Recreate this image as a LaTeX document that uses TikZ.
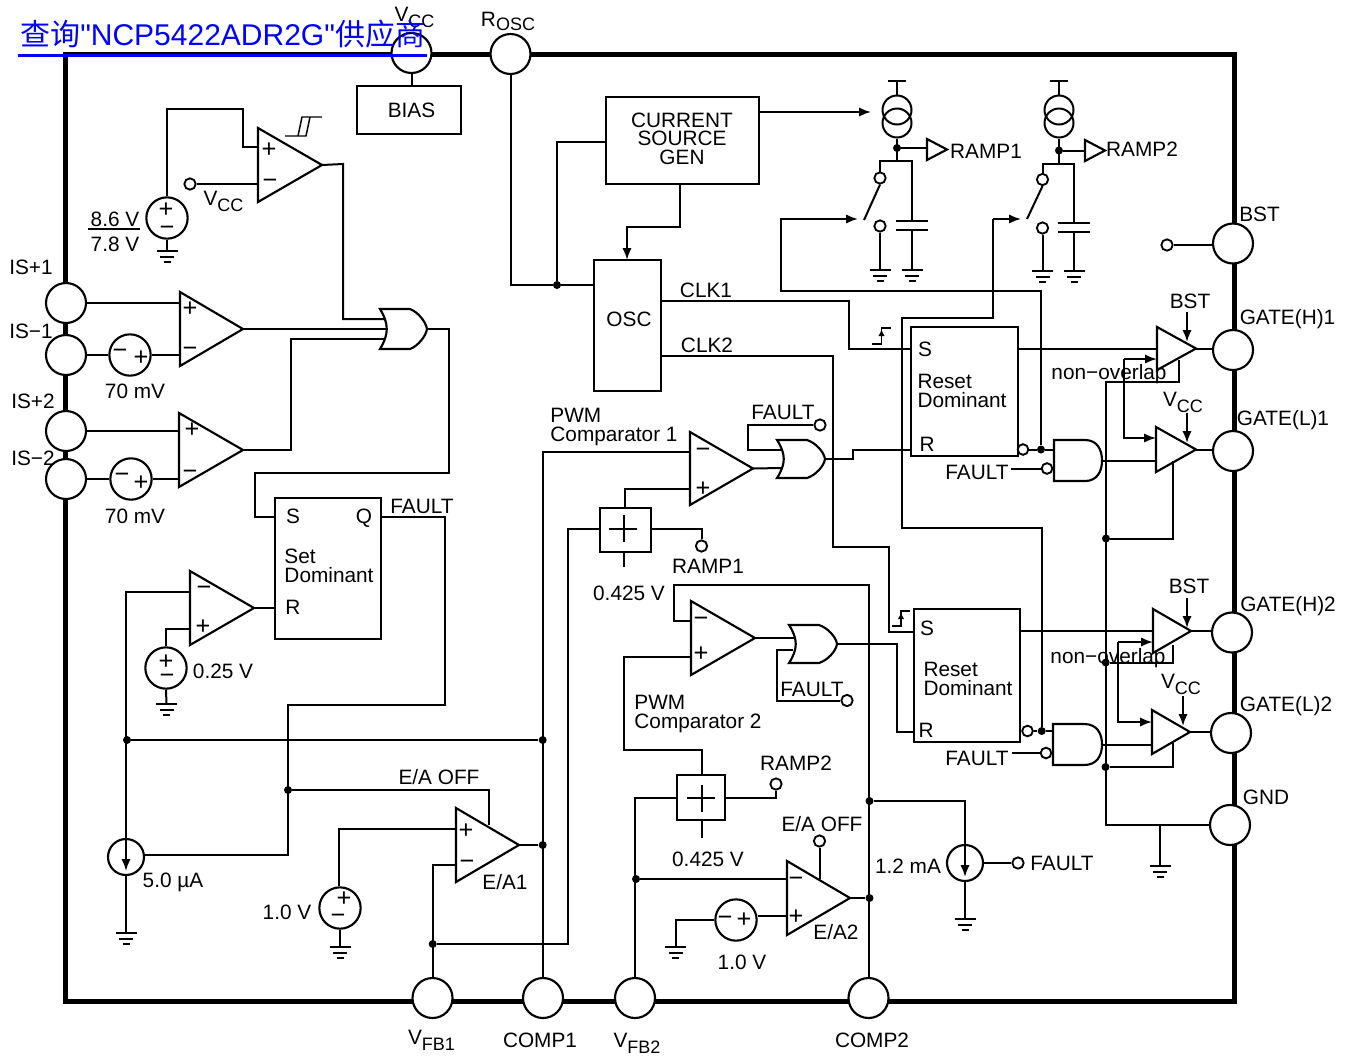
\documentclass[tikz,border=0pt]{standalone}
\usepackage{fontspec}
\setmainfont{Liberation Sans}
\newfontfamily\linkfont{Liberation Sans}
\newfontfamily\cjk{Noto Sans CJK SC}
\usetikzlibrary{arrows.meta}
\newcommand\sbs[1]{\raisebox{-4.5pt}{\fontsize{13.5}{13.5}\selectfont #1}}
\tikzset{
  wire/.style={line width=1.5pt},
  thinw/.style={line width=1.1pt},
  part/.style={line width=1.6pt,line join=miter},
  arr/.style={-{Latex[length=9pt,width=7pt]}},
  smallarr/.style={-{Latex[length=5pt,width=5pt]}},
  frame/.style={line width=3.75pt},
  pinn/.style={circle,draw,fill=white,line width=1.6pt,minimum size=30pt,inner sep=0pt},
  src/.style={circle,draw,line width=1.6pt,minimum size=31pt,inner sep=0pt},
  isrc/.style={circle,draw,line width=1.6pt,minimum size=27pt,inner sep=0pt},
  ics/.style={circle,draw,line width=1.5pt,minimum size=21.75pt,inner sep=0pt},
  oc/.style={circle,draw,fill=white,line width=1.4pt,minimum size=8.5pt,inner sep=0pt},
  bub/.style={circle,draw,fill=white,line width=1.4pt,minimum size=8pt,inner sep=0pt},
  dot/.style={circle,fill=black,minimum size=6pt,inner sep=0pt},
  box/.style={draw,line width=1.6pt,inner sep=0pt},
  lbl/.style={inner sep=0pt,font=\fontsize{15.6}{14.2}\selectfont,text height=11.2pt,text depth=0pt},
  multi/.style={inner sep=0pt,font=\fontsize{15.6}{14.2}\selectfont,align=left},
  sign/.style={inner sep=0pt,font=\fontsize{19}{19}\selectfont},
}
\newcommand\boxn[5]{\node[box,minimum width={(#4-#2)*0.75pt},minimum height={(#5-#3)*0.75pt}] (#1) at ({(#2+#4)/2},{(#3+#5)/2}) {};}
\newcommand\driver[5]{\coordinate (#1a) at (#2,#3); \coordinate (#1b) at (#2,#4); \coordinate (#1o) at (#5,{(#3+#4)/2}); \draw[part] (#1a) -- (#1o) -- (#1b) -- cycle;}
\newcommand\opamp[7]{\driver{#1}{#2}{#3}{#4}{#5}\coordinate (#1p) at (#2,#6); \coordinate (#1m) at (#2,#7);}
\newcommand\orgate[5]{\draw[part] (#2,#3) -- (#2+30,#3) .. controls (#5-9,#3+3) and (#5-1,{(#3+#4)/2-7}) .. (#5,{(#3+#4)/2}) .. controls (#5-1,{(#3+#4)/2+7}) and (#5-9,#4-3) .. (#2+30,#4) -- (#2,#4) .. controls (#2+9,{(#3+#4)/2+5}) and (#2+9,{(#3+#4)/2-5}) .. cycle; \coordinate (#1o) at (#5,{(#3+#4)/2});}
\newcommand\andgate[5]{\draw[part] (#2,#3) -- (#2+31,#3) .. controls (#5-5,#3) and (#5,{(#3+#4)/2-11}) .. (#5,{(#3+#4)/2}) .. controls (#5,{(#3+#4)/2+11}) and (#5-5,#4) .. (#2+31,#4) -- (#2,#4) -- cycle; \coordinate (#1o) at (#5,{(#3+#4)/2});}
\newcommand\gnd[3]{\coordinate (#1) at (#2,#3); \draw[wire] (#2-10.5,#3) -- (#2+10.5,#3) (#2-7,#3+5.5) -- (#2+7,#3+5.5) (#2-3.5,#3+11) -- (#2+3.5,#3+11);}
\newcommand\capac[4]{\draw[wire] (#2-16,#3) -- (#2+16,#3) (#2-16,#4) -- (#2+16,#4); \coordinate (#1t) at (#2,#3); \coordinate (#1b) at (#2,#4);}
\begin{document}
\begin{tikzpicture}[x=0.75pt,y=-0.75pt]
\useasboundingbox (0,0) rectangle (1351,1057);
\fill[white] (0,0) rectangle (1351,1057);
\draw[frame] (65,54) rectangle (1234,1001);

% pins
\node[pinn] (pvcc) at (411.5,53) {};
\node[pinn] (prosc) at (510.5,54) {};
\node[pinn] (pisp1) at (66,303) {};
\node[pinn] (pism1) at (66,355) {};
\node[pinn] (pisp2) at (66,431) {};
\node[pinn] (pism2) at (66,479) {};
\node[pinn] (pbst) at (1233,243.5) {};
\node[pinn] (pgh1) at (1233,350) {};
\node[pinn] (pgl1) at (1233,451) {};
\node[pinn] (pgh2) at (1232,632.5) {};
\node[pinn] (pgl2) at (1231,733) {};
\node[pinn] (pgnd) at (1230,825) {};
\node[pinn] (pfb1) at (432.5,998) {};
\node[pinn] (pc1) at (543,998) {};
\node[pinn] (pfb2) at (635,998) {};
\node[pinn] (pc2) at (868.5,998) {};

% boxes
\boxn{bias}{357}{86}{461}{134}
\boxn{csg}{606}{97}{759}{184}
\boxn{osc}{594}{260}{661}{391}
\boxn{rd1}{911}{327}{1018}{456}
\boxn{rd2}{914}{609}{1020}{742}
\boxn{sd}{275}{498}{381}{639}
\boxn{sum1}{600}{508}{651}{552}
\boxn{sum2}{677}{775}{725}{820}
\draw[wire] (624,515) -- (624,542) (609,528.5) -- (637,528.5) (624,552) -- (624,567);
\draw[wire] (701.5,785) -- (701.5,812) (687,798) -- (715,798) (701.5,820) -- (701.5,838);

% amplifiers
\opamp{u1}{258}{128}{202}{322}{147}{184}
\opamp{is1}{180}{292}{366}{243}{303}{355}
\opamp{is2}{179}{413}{487}{243}{431}{479}
\opamp{rc}{190}{571}{645}{254}{629}{592}
\opamp{pw1}{690}{432}{505}{753}{489}{452}
\opamp{pw2}{691}{601}{675}{755}{657}{621}
\opamp{ea1}{456}{808}{882}{519}{829}{865}
\opamp{ea2}{787}{861}{935}{850}{916}{879}
\driver{hs1}{1157}{327}{370}{1196}
\driver{ls1}{1156}{427}{472}{1196}
\driver{hs2}{1153}{609}{653}{1191}
\driver{ls2}{1152}{710}{754}{1190}

% gates
\orgate{orf}{380}{309}{349}{427}
\orgate{orp1}{777}{440}{478}{825}
\orgate{orp2}{789}{625}{663}{837}
\andgate{and1}{1054}{440}{481}{1102}
\andgate{and2}{1053}{724}{765}{1102}

% signs
\node[sign] (s1) at (269,150) {+};
\node[sign] (s2) at (270,184) {−};
\node[sign] (s3) at (190,309) {+};
\node[sign] (s4) at (190,352) {−};
\node[sign] (s5) at (192,430) {+};
\node[sign] (s6) at (190,475) {−};
\node[sign] (s7) at (204,591) {−};
\node[sign] (s8) at (203,627) {+};
\node[sign] (s9) at (703,453) {−};
\node[sign] (s10) at (703,489) {+};
\node[sign] (s11) at (701,622) {−};
\node[sign] (s12) at (701,654) {+};
\node[sign] (s13) at (466,831) {+};
\node[sign] (s14) at (467,865) {−};
\node[sign] (s15) at (796,882) {−};
\node[sign] (s16) at (796,917) {+};

% voltage sources
\node[src] (vs86) at (167,218) {};
\node[sign] (s17) at (166,210) {+};
\node[sign] (s18) at (167,231) {−};
\node[src] (vs70a) at (130,355) {};
\node[sign] (s19) at (120,354) {−};
\node[sign] (s20) at (141,358) {+};
\node[src] (vs70b) at (131,479) {};
\node[sign] (s21) at (122,478) {−};
\node[sign] (s22) at (141,483) {+};
\node[src] (vs25) at (166,668) {};
\node[sign] (s23) at (166,662) {+};
\node[sign] (s24) at (167,679) {−};
\node[src] (vs10a) at (340,908) {};
\node[sign] (s25) at (344,899) {+};
\node[sign] (s26) at (338,919) {−};
\node[src] (vs10b) at (736,920) {};
\node[sign] (s27) at (725,921) {−};
\node[sign] (s28) at (744,920) {+};
\node[isrc] (is5) at (126,857) {};
\node[isrc] (is12) at (965,863) {};

% grounds
\gnd{g1}{167}{251}
\gnd{g2}{166.5}{704}
\gnd{g3}{126}{933}
\gnd{g4}{340}{947}
\gnd{g5}{675.5}{947}
\gnd{g6}{965}{919}
\gnd{g7}{1160}{866}
\gnd{g8}{880}{270}
\gnd{g9}{912}{270}
\gnd{g10}{1042.5}{271}
\gnd{g11}{1074}{271}

% small terminals
\node[oc] (tvcc) at (190,184) {};
\node[oc] (tbst) at (1167,245) {};
\node[oc] (tf1) at (820,425) {};
\node[oc] (tf2) at (847,700.5) {};
\node[oc] (tr1) at (701.5,546) {};
\node[oc] (tr2) at (776,784) {};
\node[oc] (tea2) at (819.5,841) {};
\node[oc] (tf3) at (1018,863) {};
\node[oc] (sw1a) at (880,178) {};
\node[oc] (sw1b) at (880,226) {};
\node[oc] (sw2a) at (1042.5,179.5) {};
\node[oc] (sw2b) at (1042.5,228) {};
\node[bub] (bq1) at (1023,449.5) {};
\node[bub] (bq2) at (1027.5,731) {};
\node[bub] (bf1) at (1047,468.5) {};
\node[bub] (bf2) at (1046,753) {};

% dots
\node[dot] (dosc) at (557,285) {};
\node[dot] (d1q) at (1041,449.5) {};
\node[dot] (d2q) at (1041.7,731) {};
\node[dot] (dq) at (288,790) {};
\node[dot] (dfa) at (127,740) {};
\node[dot] (dfb) at (542.7,740) {};
\node[dot] (dc1) at (542.7,845) {};
\node[dot] (dfb1) at (432.7,944) {};
\node[dot] (dfb2) at (636,879) {};
\node[dot] (dc2a) at (869.5,801) {};
\node[dot] (dc2b) at (869.5,898) {};
\node[dot] (dg1) at (1106,538.5) {};
\node[dot] (dg2) at (1105.7,662.5) {};
\node[dot] (dg3) at (1105.5,767) {};
\node[dot] (dr1) at (897,148) {};
\node[dot] (dr2) at (1059,150.5) {};

% supply, bias and oscillator connections
\draw[wire] (pvcc.south) -- (pvcc.south |- bias.north);
\draw[wire] (prosc.south) |- (dosc) -- (osc.west |- dosc);
\draw[wire] (dosc) |- (csg.west |- 0,142);
\draw[wire,arr] (csg.east |- 0,112) -- (871,112);
\draw[wire,arr] (680,184) |- (627,227) -- (627,260);
\draw[wire] (pbst.west |- tbst) -- (tbst);

% UVLO
\draw[wire] (vs86.north) -- (167,108.5) -| (243,147) -- (u1p);
\draw[wire] (tvcc) -- (u1m);
\draw[wire] (vs86.south) -- (g1);
\draw[wire] (u1o) -- (343,164) |- (385,319);
\draw[thinw] (285,136) -- (306,136) -- (310,117) -- (322,117) (298,136) -- (302,117) -- (310,117);
\draw[wire] (88,229) -- (140,229);

% current sense
\draw[wire] (pisp1.east |- is1p) -- (is1p);
\draw[wire] (pism1.east) -- (vs70a.west);
\draw[wire] (vs70a.east) -- (is1m);
\draw[wire] (pisp2.east) -- (is2p);
\draw[wire] (pism2.east) -- (vs70b.west);
\draw[wire] (vs70b.east) -- (is2m);
\draw[wire] (is1o) -- (388,329);
\draw[wire] (is2o) -- (291,450) |- (385,339);
\draw[wire] (orfo) -- (449,329) |- (255,472.5) |- (sd.west |- 0,516.5);

% fault latch
\draw[wire] (rco) -- (sd.west |- rco);
\draw[wire] (rcp) -| (vs25.north);
\draw[wire] (vs25.south) -- (g2);
\draw[wire] (sd.east |- 0,516.5) -- (445,516.5) |- (288,705) -- (288,855) -- (is5.east |- 0,855);
\draw[wire] (dq) -| (488.5,825);
\draw[wire] (rcm) -| (126,857);
\draw[wire,arr] (126,857) -- (126,871);
\draw[wire] (is5.south) -- (g3);
\draw[wire] (dfa) -- (dfb);

% error amplifier 1
\draw[wire] (ea1p) -| (vs10a.north -| 338.5,0);
\draw[wire] (vs10a.south) -- (g4);
\draw[wire] (ea1m) -| (pfb1.north);
\draw[wire] (ea1o) -- (dc1);
\draw[wire] (pw1m) -| (pc1.north);

% PWM 1
\draw[wire] (pw1p) -| (sum1.north -| 625,0);
\draw[wire] (sum1.west |- 0,529) -| (568,944) -- (dfb1);
\draw[wire] (sum1.east |- 0,529) -| (tr1.north);
\draw[wire] (pw1o) -- (781,468);
\draw[wire] (tf1) -| (748,449.5) -- (782,449.5);
\draw[wire] (orp1o) -- (853,459) |- (rd1.west |- 0,450);

% PWM 2
\draw[wire] (pw2m) -| (673.5,585) -| (pc2.north);
\draw[wire] (pw2p) -| (623.5,750) -| (sum2.north -| 702,0);
\draw[wire] (sum2.west |- 0,798) -| (pfb2.north);
\draw[wire] (dfb2) -- (ea2m);
\draw[wire] (sum2.east |- 0,798) -| (tr2.south);
\draw[wire] (pw2o) -- (794,638);
\draw[wire] (793,650) -| (777,700.5) -- (tf2);
\draw[wire] (orp2o) -| (897,732) -- (rd2.west |- 0,732);

% error amplifier 2 and 1.2 mA
\draw[wire] (tea2.south) -- (819.5,879);
\draw[wire] (ea2o) -- (dc2b);
\draw[wire] (ea2p) -- (vs10b.east |- 0,916);
\draw[wire] (vs10b.west) -| (g5);
\draw[wire] (dc2a) -| (965,863);
\draw[wire,arr] (965,863) -- (965,877);
\draw[wire] (is12.south) -- (g6);
\draw[wire] (is12.east) -- (tf3);

% clocks
\draw[wire] (osc.east |- 0,300.5) -| (849,349) -- (rd1.west |- 0,349);
\draw[wire] (osc.east |- 0,356) -| (833,546.5) -| (889,631.5) -- (rd2.west |- 0,631.5);
\draw[thinw] (872,344) -- (881.5,344) -- (881.5,328) -- (891,328);
\draw[thinw,smallarr] (881.5,344) -- (881.5,329.5);
\draw[thinw] (892,626) -- (901,626) -- (901,611) -- (910,611);
\draw[thinw,smallarr] (901,626) -- (901,612.5);

% reset-dominant latch 1 and drivers
\draw[wire] (rd1.east |- hs1o) -- (hs1o -| hs1a);
\draw[wire] (hs1o) -- (pgh1.west |- hs1o);
\draw[wire] (bq1) -- (d1q) -- (1054,449.5);
\draw[wire,arr] (d1q) |- (781,291) |- (858,219);
\draw[wire] (1011,468.5) -- (bf1);
\draw[wire] (and1o) -- (ls1a |- and1o);
\draw[wire] (ls1o) -- (pgl1.west |- ls1o);
\draw[wire,arr] (1124,359) -- (hs1a |- 0,359);
\draw[wire,arr] (1124,359) |- (ls1a |- 0,438);
\draw[wire,arr] (1187,312) -- (1187,342);
\draw[wire,arr] (1187,413) -- (1187,443);
\draw[wire] (1179,360) |- (1106,382) -- (1106,825) -- (pgnd.west |- 0,825);
\draw[wire] (1172.5,461) |- (dg1);
\draw[wire] (g7) -- (1160,825);

% reset-dominant latch 2 and drivers
\draw[wire] (rd2.east |- hs2o) -- (hs2o -| hs2a);
\draw[wire] (hs2o) -- (pgh2.west |- hs2o);
\draw[wire] (bq2) -- (d2q) -- (1053,731);
\draw[wire] (d2q) |- (902,528) |- (993,318) -- (993,219);
\draw[wire,arr] (993,219) -- (1021,219);
\draw[wire] (1012,753) -- (bf2);
\draw[wire] (and2o) -- (ls2a |- and2o);
\draw[wire] (ls2o) -- (pgl2.west |- ls2o);
\draw[wire,arr] (1118,642) -- (hs2a |- 0,642);
\draw[wire,arr] (1118,642) |- (ls2a |- 0,722);
\draw[wire,arr] (1187,598) -- (1187,628);
\draw[wire,arr] (1183,696) -- (1183,726);
\draw[wire] (1173,645) |- (dg2);
\draw[wire] (1172.7,743) |- (dg3);

% ramp generator 1
\node[ics] (cs1a) at (897,110) {};
\node[ics] (cs1b) at (897,123) {};
\draw[wire] (888,81) -- (906,81) (897,81) -- (cs1a.north);
\draw[wire] (cs1b.south) -- (897,161);
\draw[wire] (880,172.5) |- (912,161) -- (912,221);
\driver{rt1}{927}{139}{160}{947}
\draw[wire] (dr1) -- (927,148);
\draw[wire] (sw1a.south) -- (864,220);
\draw[wire] (sw1b.south) -- (g8);
\capac{c1}{912}{221}{230}
\draw[wire] (c1b) -- (g9);

% ramp generator 2
\node[ics] (cs2a) at (1059,110) {};
\node[ics] (cs2b) at (1059,123) {};
\draw[wire] (1050,81) -- (1068,81) (1059,81) -- (cs2a.north);
\draw[wire] (cs2b.south) -- (1059,164);
\draw[wire] (1042.5,174) |- (1074,164) -- (1074,223);
\driver{rt2}{1085}{140}{161}{1105}
\draw[wire] (dr2) -- (1085,150.5);
\draw[wire] (sw2a.south) -- (1027,219);
\draw[wire] (sw2b.south) -- (g10);
\capac{c2}{1074}{223}{232}
\draw[wire] (c2b) -- (g11);

% labels
\node[lbl] (lvcc) at (414.5,14.5) {V\sbs{CC}};
\node[lbl] (lrosc) at (508,19) {R\raisebox{-3pt}{\fontsize{13.5}{13.5}\selectfont OSC}};
\node[lbl] (lisp1) at (31,267.5) {IS+1};
\node[lbl] (lism1) at (31,331) {IS−1};
\node[lbl] (lisp2) at (33,401) {IS+2};
\node[lbl] (lism2) at (33,458) {IS−2};
\node[lbl] (l86) at (115,219) {8.6 V};
\node[lbl] (l78) at (115,244) {7.8 V};
\node[lbl] (lbias) at (411.5,110) {BIAS};
\node[lbl] (lvu) at (223.5,198) {V\sbs{CC}};
\node[lbl] (l70a) at (135,391) {70 mV};
\node[lbl] (l70b) at (135,516) {70 mV};
\node[lbl] (lclk1) at (706,290) {CLK1};
\node[lbl] (lclk2) at (707,345) {CLK2};
\node[lbl] (losc) at (629,319) {OSC};
\node[multi,align=center,font=\fontsize{15.6}{13.9}\selectfont] (lcsg) at (682,138.5) {CURRENT\\SOURCE\\GEN};
\node[lbl] (lr1) at (986,151) {RAMP1};
\node[lbl] (lr2) at (1142,149) {RAMP2};
\node[lbl] (lbst) at (1259.5,214) {BST};
\node[lbl] (lgh1) at (1287.5,317) {GATE(H)1};
\node[lbl] (lgl1) at (1283,418) {GATE(L)1};
\node[lbl] (lgh2) at (1288,604) {GATE(H)2};
\node[lbl] (lgl2) at (1286,704) {GATE(L)2};
\node[lbl] (lgnd) at (1266,797) {GND};
\node[lbl] (ls1) at (925,349) {S};
\node[lbl] (lr1r) at (927,444) {R};
\node[multi] (lrd1) at (962,390.5) {Reset\\Dominant};
\node[lbl] (ls2) at (927,628) {S};
\node[lbl] (lr2r) at (926,730) {R};
\node[multi] (lrd2) at (968,679) {Reset\\Dominant};
\node[multi] (lsd) at (329,566) {Set\\Dominant};
\node[lbl] (lss) at (293,516) {S};
\node[lbl] (lsq) at (364,516) {Q};
\node[lbl] (lsr) at (293,607) {R};
\node[lbl] (lfq) at (422,506) {FAULT};
\node[lbl] (lf1) at (783,412) {FAULT};
\node[lbl] (lf2) at (812,689) {FAULT};
\node[multi] (lpw1) at (614,427) {PWM\\Comparator 1};
\node[multi] (lpw2) at (698,714) {PWM\\Comparator 2};
\node[lbl] (lra1) at (708,566) {RAMP1};
\node[lbl] (lv1) at (629,593) {0.425 V};
\node[lbl] (lno1) at (1109,372.5) {non−overlap};
\node[lbl] (lno2) at (1108,656.5) {non−overlap};
\node[lbl] (lb1) at (1190,301) {BST};
\node[lbl] (lvc1) at (1183,399) {V\sbs{CC}};
\node[lbl] (lb2) at (1189,586.5) {BST};
\node[lbl] (lvc2) at (1181,681) {V\sbs{CC}};
\node[lbl] (lfa1) at (977,472) {FAULT};
\node[lbl] (lfa2) at (977,758) {FAULT};
\node[lbl] (l025) at (223,671) {0.25 V};
\node[lbl] (l50) at (173,880) {5.0 µA};
\node[lbl] (lea1) at (439,777) {E/A OFF};
\node[lbl] (lea1n) at (505,882) {E/A1};
\node[lbl] (l10a) at (287,912) {1.0 V};
\node[lbl] (lfb1) at (431.5,1037.5) {V\sbs{FB1}};
\node[lbl] (lc1) at (540,1040) {COMP1};
\node[lbl] (lfb2) at (637,1040.5) {V\sbs{FB2}};
\node[lbl] (lc2) at (872,1040) {COMP2};
\node[lbl] (lra2) at (796,763) {RAMP2};
\node[lbl] (lea2) at (822,824) {E/A OFF};
\node[lbl] (lv2) at (708,859) {0.425 V};
\node[lbl] (lea2n) at (836,932) {E/A2};
\node[lbl] (l10b) at (742,962) {1.0 V};
\node[lbl] (l12) at (908,866) {1.2 mA};
\node[lbl] (lf3) at (1062,863) {FAULT};

% link overlay
\node[inner sep=0pt,anchor=base west,text=blue,font=\fontsize{22.5}{26}\selectfont] (link) at (20,45) {{\cjk 查询}{\linkfont "NCP5422ADR2G"}{\cjk 供应商}};
\draw[blue,line width=1.6pt] (18,55.5) -- (427,55.5);
\end{tikzpicture}
\end{document}
